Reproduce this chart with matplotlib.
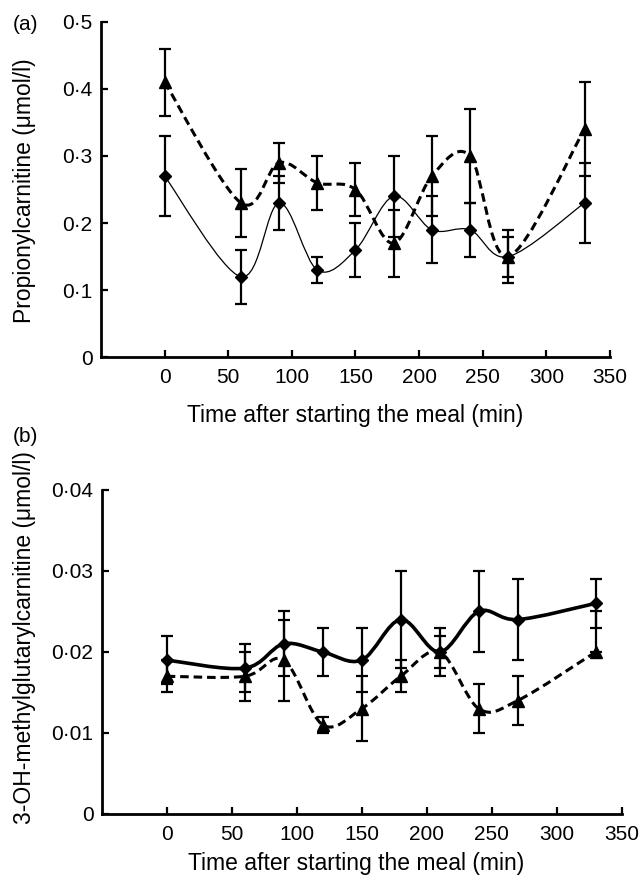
import numpy as np
import matplotlib
matplotlib.use('Agg')
import matplotlib.pyplot as plt
from matplotlib.path import Path
from matplotlib.patches import PathPatch

##data
time = [0, 60, 90, 120, 150, 180, 210, 240, 270, 330]

#panel (a) propionylcarnitine
prop_diamond = [0.27, 0.12, 0.23, 0.13, 0.16, 0.24, 0.19, 0.19, 0.15, 0.23]
prop_diamond_err = [0.06, 0.04, 0.04, 0.02, 0.04, 0.06, 0.05, 0.04, 0.04, 0.06]
prop_triangle = [0.41, 0.23, 0.29, 0.26, 0.25, 0.17, 0.27, 0.30, 0.15, 0.34]
prop_triangle_err = [0.05, 0.05, 0.03, 0.04, 0.04, 0.05, 0.06, 0.07, 0.03, 0.07]

#panel (b) 3-OH-methylglutarylcarnitine
hmg_diamond = [0.019, 0.018, 0.021, 0.020, 0.019, 0.024, 0.020, 0.025, 0.024, 0.026]
hmg_diamond_err = [0.003, 0.003, 0.004, 0.003, 0.004, 0.006, 0.003, 0.005, 0.005, 0.003]
hmg_triangle = [0.017, 0.017, 0.019, 0.011, 0.013, 0.017, 0.020, 0.013, 0.014, 0.020]
hmg_triangle_err_lo = [0.002, 0.003, 0.005, 0.001, 0.004, 0.002, 0.002, 0.003, 0.003, 0.0]
hmg_triangle_err_hi = [0.002, 0.003, 0.005, 0.001, 0.004, 0.002, 0.002, 0.003, 0.003, 0.005]

#ticks
x_ticks = [0, 50, 100, 150, 200, 250, 300, 350]
a_yticks = [0, 0.1, 0.2, 0.3, 0.4, 0.5]
a_yticklabels = ['0', '0·1', '0·2', '0·3', '0·4', '0·5']
b_yticks = [0, 0.01, 0.02, 0.03, 0.04]
b_yticklabels = ['0', '0·01', '0·02', '0·03', '0·04']

xlabel = 'Time after starting the meal (min)'

plt.rcParams['font.family'] = ['Liberation Sans', 'DejaVu Sans']
FS = 15      # tick labels
LFS = 16.5   # axis labels


#smoothed (excel style) curve through the points, drawn as bezier path
def smooth_path(x, y):
    p = np.column_stack((x, y)).astype(float)
    n = len(p)
    verts = [p[0]]
    codes = [Path.MOVETO]
    for i in range(n - 1):
        p0 = p[i - 1] if i > 0 else p[i]
        p3 = p[i + 2] if i + 2 < n else p[i + 1]
        c1 = p[i] + (p[i + 1] - p0) / 6.0
        c2 = p[i + 1] - (p3 - p[i]) / 6.0
        verts += [c1, c2, p[i + 1]]
        codes += [Path.CURVE4] * 3
    return Path(verts, codes)


def draw_series(ax, x, y, yerr, marker, ms, lw, ls):
    ax.add_patch(PathPatch(smooth_path(x, y), fill=False, edgecolor='black',
                           linewidth=lw, linestyle=ls, zorder=2))
    ax.errorbar(x, y, yerr=yerr, fmt='none', ecolor='black', elinewidth=1.6,
                capsize=4, capthick=1.6, zorder=3)
    ax.plot(x, y, linestyle='none', marker=marker, markersize=ms,
            color='black', zorder=4)


def style_axis(ax, yticks, yticklabels, ylim):
    ax.set_xlim(-50, 350)
    ax.set_ylim(*ylim)
    for s in ['top', 'right']:
        ax.spines[s].set_visible(False)
    for s in ['left', 'bottom']:
        ax.spines[s].set_linewidth(2.0)
    ax.set_xticks(x_ticks)
    ax.set_xticklabels([str(t) for t in x_ticks])
    ax.set_yticks(yticks)
    ax.set_yticklabels(yticklabels)
    ax.tick_params(axis='x', direction='in', length=5, width=1.6, pad=8, labelsize=FS)
    ax.tick_params(axis='y', direction='in', length=5, width=1.6, pad=6, labelsize=FS)


fig = plt.figure(figsize=(6.41, 8.76), dpi=100)

#panel (a)
ax1 = fig.add_axes([0.1576, 0.5921, 0.794, 0.3831])
ax1.patch.set_alpha(0)
draw_series(ax1, time, prop_triangle, prop_triangle_err, '^', 8.5, 2.2, (0, (2.8, 1.6)))
draw_series(ax1, time, prop_diamond, prop_diamond_err, 'D', 6.5, 0.9, '-')
style_axis(ax1, a_yticks, a_yticklabels, (0, 0.5))
ax1.set_xlabel(xlabel, fontsize=LFS, va='top')
ax1.xaxis.set_label_coords(0.5, -0.14)
ax1.set_ylabel('Propionylcarnitine (μmol/l)', fontsize=LFS)
ax1.yaxis.set_label_coords(-0.128, 0.496)

#panel (b)
ax2 = fig.add_axes([0.1587, 0.0708, 0.8112, 0.3699])
ax2.patch.set_alpha(0)
draw_series(ax2, time, hmg_triangle, [hmg_triangle_err_lo, hmg_triangle_err_hi], '^', 8.5, 2.2, (0, (2.8, 1.6)))
draw_series(ax2, time, hmg_diamond, hmg_diamond_err, 'D', 6.5, 2.6, '-')
style_axis(ax2, b_yticks, b_yticklabels, (0, 0.04))
ax2.set_xlabel(xlabel, fontsize=LFS, va='bottom')
ax2.xaxis.set_label_coords(0.49, -(875 - 814) / 324)
ax2.set_ylabel('3-OH-methylglutarylcarnitine (μmol/l)', fontsize=LFS)
ax2.yaxis.set_label_coords(-0.126, 0.543)

fig.text(13 / 641, 1 - 24 / 876, '(a)', fontsize=FS, ha='left', va='center')
fig.text(13 / 641, 1 - 437 / 876, '(b)', fontsize=FS, ha='left', va='center')

fig.savefig('out.png', dpi=100)
